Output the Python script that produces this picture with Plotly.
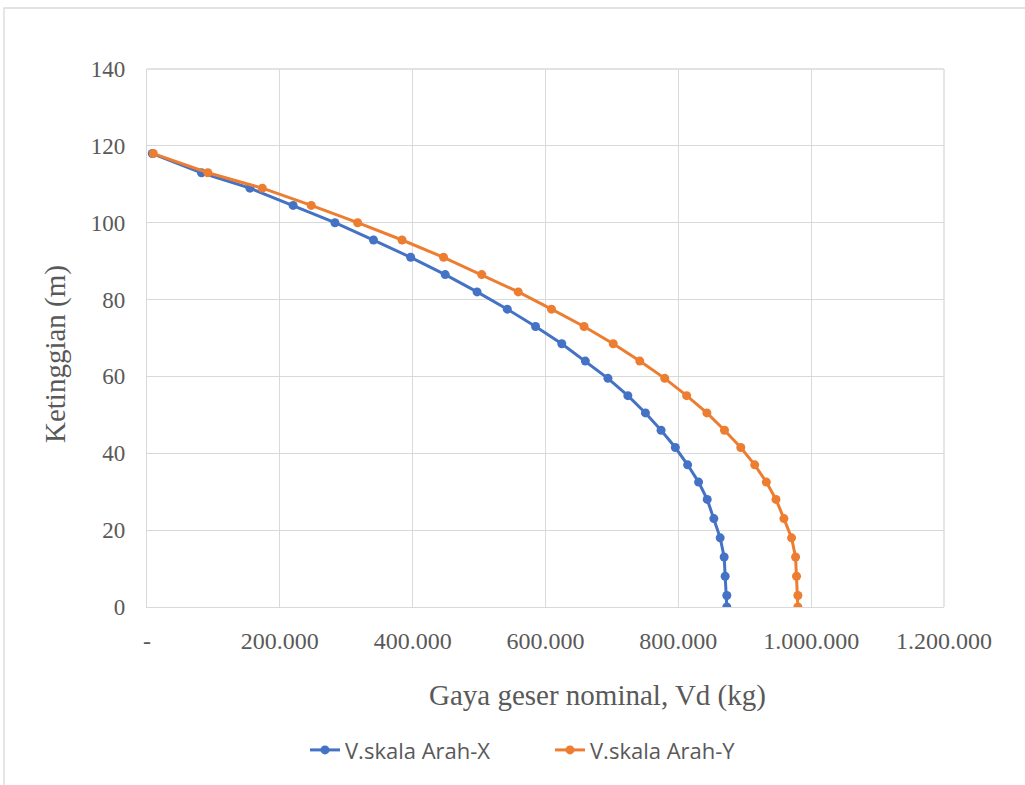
import plotly.graph_objects as go

heights = [118, 113, 109, 104.5, 100, 95.5, 91, 86.5, 82, 77.5, 73, 68.5, 64,
           59.5, 55, 50.5, 46, 41.5, 37, 32.5, 28, 23, 18, 13, 8, 3, 0]
v_x = [8000, 82000, 155000, 220000, 283000, 341000, 397000, 449000, 497000,
       542500, 585000, 624500, 660000, 694000, 724000, 750500, 774000, 795500,
       814000, 830500, 843500, 853500, 863000, 869000, 870500, 873000, 873000]
v_y = [9500, 91600, 173700, 247300, 317200, 384000, 446500, 504000, 559000,
       609000, 658000, 702000, 742000, 779500, 812500, 843000, 869500, 894000,
       915000, 932500, 947000, 959000, 970500, 976500, 978000, 980000, 980000]

x_tick_vals = [0, 200000, 400000, 600000, 800000, 1000000, 1200000]
x_tick_text = ["-", "200.000", "400.000", "600.000", "800.000", "1.000.000", "1.200.000"]
y_tick_vals = [0, 20, 40, 60, 80, 100, 120, 140]

series_names = ["V.skala Arah-X", "V.skala Arah-Y"]
colors = ["#4472C4", "#ED7D31"]
x_title = "Gaya geser nominal, Vd (kg)"
y_title = "Ketinggian (m)"

fig = go.Figure()
for name, xs, c in zip(series_names, [v_x, v_y], colors):
    fig.add_trace(go.Scatter(
        x=xs, y=heights, name=name, mode="lines+markers",
        line=dict(color=c, width=3),
        marker=dict(color=c, size=9),
    ))

serif = "Liberation Serif, Times New Roman, serif"
grey = "#595959"
fig.update_layout(
    width=1025, height=785,
    margin=dict(l=147, r=81, t=69, b=178),
    paper_bgcolor="white", plot_bgcolor="white",
    showlegend=True,
    legend=dict(orientation="h", x=(550 - 147) / 797, xanchor="center",
                y=-0.266, yanchor="middle",
                entrywidth=200, entrywidthmode="pixels",
                font=dict(family="Open Sans, Noto Sans, sans-serif", size=22, color=grey),
                tracegroupgap=0),
    xaxis=dict(range=[0, 1200000], tickvals=x_tick_vals, ticktext=x_tick_text,
               showgrid=True, gridcolor="#d9d9d9", gridwidth=1.3,
               showline=True, linecolor="#d9d9d9", linewidth=1.3, mirror=False,
               zeroline=False, ticks="", ticklabelstandoff=12,
               tickfont=dict(family=serif, size=24, color=grey)),
    yaxis=dict(range=[0, 140], tickvals=y_tick_vals,
               showgrid=True, gridcolor="#d9d9d9", gridwidth=1.3,
               showline=True, linecolor="#d9d9d9", linewidth=1.3,
               zeroline=False, ticks="", ticklabelstandoff=16,
               tickfont=dict(family=serif, size=23, color=grey)),
    shapes=[dict(type="rect", xref="paper", yref="paper",
                 x0=(4 - 147) / 797, x1=1.3, y0=-0.5, y1=(607 - 8) / 538,
                 line=dict(color="#d9d9d9", width=1.3), layer="below")],
)
fig.add_annotation(text=x_title, xref="paper", yref="paper",
                   x=(597 - 147) / 797, y=(607 - 695) / 538,
                   xanchor="center", yanchor="middle", showarrow=False,
                   font=dict(family=serif, size=29, color=grey))
fig.add_annotation(text=y_title, xref="paper", yref="paper", textangle=-90,
                   x=(55 - 147) / 797, y=(607 - 354) / 538,
                   xanchor="center", yanchor="middle", showarrow=False,
                   font=dict(family=serif, size=29, color=grey))
fig.add_shape(type="line", xref="paper", yref="paper", x0=1, x1=1, y0=0, y1=1,
              line=dict(color="#d9d9d9", width=1.3))
fig.add_shape(type="line", xref="paper", yref="paper", x0=0, x1=1, y0=1, y1=1,
              line=dict(color="#d9d9d9", width=1.3))

fig.write_html("out.html")
